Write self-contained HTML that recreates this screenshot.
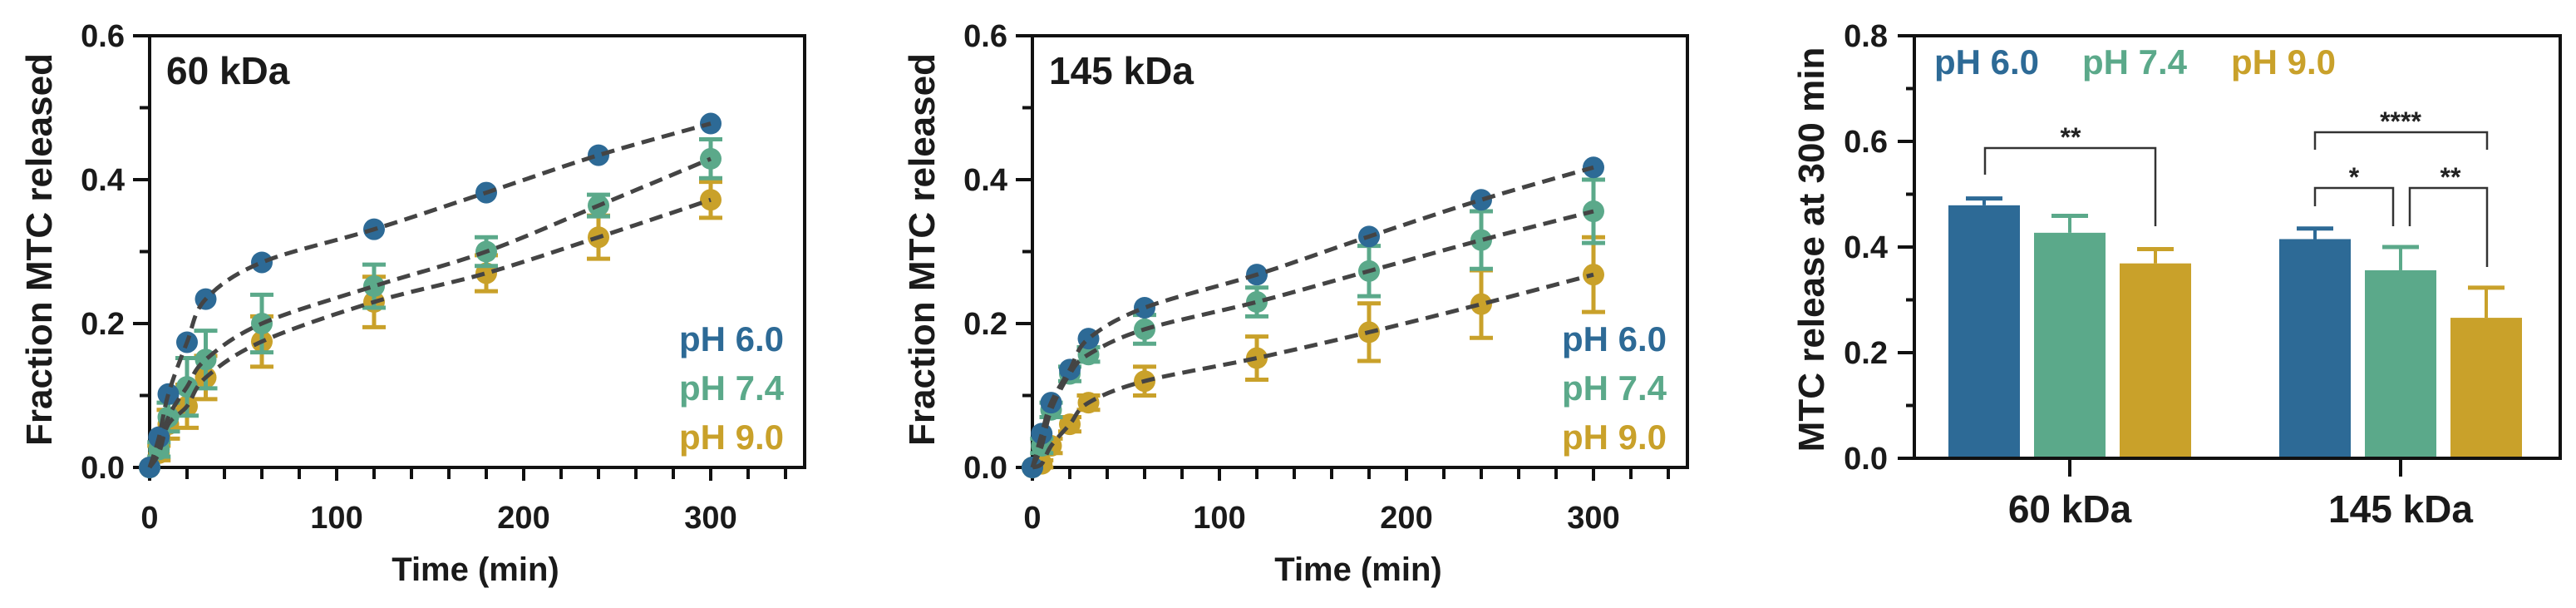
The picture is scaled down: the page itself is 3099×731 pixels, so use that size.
<!DOCTYPE html>
<html><head><meta charset="utf-8"><style>
html,body{margin:0;padding:0;background:#fff;}
svg{display:block;font-family:"Liberation Sans",Arial,sans-serif;font-weight:bold;}
</style></head><body>
<svg id="fig" width="3099" height="731" viewBox="0 0 3099 731" xmlns="http://www.w3.org/2000/svg"></svg>
<script>
// ---- data ----
const times = [0,5,10,20,30,60,120,180,240,300];
const a_ph60 = [0,0.042,0.102,0.174,0.234,0.285,0.331,0.382,0.434,0.478];
const a_ph74 = [0,0.025,0.07,0.112,0.15,0.2,0.252,0.3,0.364,0.429];
const a_ph74err = [0,0.01,0.02,0.04,0.04,0.04,0.03,0.02,0.015,0.027];
const a_ph90 = [0,0.02,0.06,0.085,0.125,0.175,0.23,0.27,0.32,0.372];
const a_ph90err = [0,0.01,0.02,0.03,0.03,0.035,0.035,0.025,0.03,0.025];
const b_ph60 = [0,0.047,0.09,0.136,0.179,0.222,0.268,0.321,0.372,0.417];
const b_ph74 = [0,0.03,0.08,0.13,0.157,0.192,0.23,0.273,0.316,0.356];
const b_ph74err = [0,0.01,0.01,0.01,0.01,0.02,0.02,0.035,0.04,0.044];
const b_ph90 = [0,0.005,0.03,0.06,0.09,0.12,0.152,0.188,0.227,0.268];
const b_ph90err = [0,0.005,0.01,0.01,0.01,0.02,0.03,0.04,0.047,0.052];
const barGroups = ["60 kDa","145 kDa"];
const barPh60 = [0.479,0.415];
const barPh60err = [0.013,0.02];
const barPh74 = [0.427,0.356];
const barPh74err = [0.032,0.044];
const barPh90 = [0.369,0.266];
const barPh90err = [0.027,0.057];
const lineYTicks = ["0.0","0.2","0.4","0.6"];
const lineXTicks = ["0","100","200","300"];
const barYTicks = ["0.0","0.2","0.4","0.6","0.8"];

const C6="#2d6a96", C7="#5ba98a", C9="#c9a12a";
const NS="http://www.w3.org/2000/svg";
const svg=document.getElementById('fig');
function el(tag,attrs,parent,txt){const e=document.createElementNS(NS,tag);for(const k in attrs)e.setAttribute(k,attrs[k]);if(txt!==undefined)e.textContent=txt;(parent||svg).appendChild(e);return e;}

function lineChart(ox,title,s6,s7,e7,s9,e9,name){
  const g=el('g',{},svg);
  
  
  const top=43,bot=562,right=ox+788;
  const xs=t=>ox+t*2.25, ys=v=>bot-v*(bot-top)/0.6;
  // frame
  const fr=el('rect',{x:ox,y:top,width:right-ox,height:bot-top,fill:'none',stroke:'#111','stroke-width':4},g);
  
  
  // y ticks
  for(let i=0;i<=6;i++){const v=i*0.1,y=ys(v);const len=(i%2==0)?20:12;
    el('line',{x1:ox-len,x2:ox,y1:y,y2:y,stroke:'#111','stroke-width':4},g);}
  lineYTicks.forEach(t=>{const tx=el('text',{x:ox-30,y:ys(parseFloat(t))+13,'font-size':38,'text-anchor':'end',fill:'#1a1a1a'},g,t);
    
    });
  for(let t=0;t<=340;t+=20){const x=xs(t);el('line',{x1:x,x2:x,y1:bot,y2:bot+(t%100==0?16:14),stroke:'#111','stroke-width':4},g);}
  lineXTicks.forEach(t=>{const tx=el('text',{x:xs(+t),y:635,'font-size':38,'text-anchor':'middle',fill:'#1a1a1a'},g,t);
    
    });
  const xt=el('text',{x:ox+392,y:698,'font-size':40,'text-anchor':'middle',fill:'#1a1a1a'},g,'Time (min)');
  
  
  const yt=el('text',{x:0,y:0,'font-size':44,'text-anchor':'middle',fill:'#1a1a1a',transform:`translate(${ox-118},300) rotate(-90)`},g,'Fraction MTC released');
  
  
  const tt=el('text',{x:ox+20,y:101,'font-size':46,fill:'#1a1a1a'},g,title);
  
  
  // curves
  function curve(arr){const p=times.map((t,i)=>[xs(t),ys(arr[i])]);let d=`M${p[0][0]},${p[0][1]}`;
    for(let i=0;i<p.length-1;i++){const p0=p[Math.max(0,i-1)],p1=p[i],p2=p[i+1],p3=p[Math.min(p.length-1,i+2)];
      d+=` C${p1[0]+(p2[0]-p0[0])/6},${p1[1]+(p2[1]-p0[1])/6} ${p2[0]-(p3[0]-p1[0])/6},${p2[1]-(p3[1]-p1[1])/6} ${p2[0]},${p2[1]}`;}
    const c=el('path',{d,fill:'none',stroke:'#444','stroke-width':5,'stroke-dasharray':'16 9'},g);
    
    }
  function series(arr,err,col,nm){
    const sg=el('g',{},g);
    
    
    times.forEach((t,i)=>{const x=xs(t),y=ys(arr[i]);
      if(err&&err[i]>0){const y1=ys(arr[i]+err[i]),y2=ys(arr[i]-err[i]);
        el('line',{x1:x,x2:x,y1:y1,y2:y2,stroke:col,'stroke-width':5},sg);
        el('line',{x1:x-14,x2:x+14,y1:y1,y2:y1,stroke:col,'stroke-width':5},sg);
        el('line',{x1:x-14,x2:x+14,y1:y2,y2:y2,stroke:col,'stroke-width':5},sg);}
      const c=el('circle',{cx:x,cy:y,r:13,fill:col},sg);
      
      });}
  series(s9,e9,C9,'series-ph9');series(s7,e7,C7,'series-ph74');series(s6,null,C6,'series-ph6');
  curve(s6);curve(s7);curve(s9);
  [['pH 6.0',C6,422],['pH 7.4',C7,481],['pH 9.0',C9,540]].forEach(([t,c,y])=>{
    const l=el('text',{x:right-25,y,'font-size':42,'text-anchor':'end',fill:c},g,t);
    
    });
}
lineChart(180,'60 kDa',a_ph60,a_ph74,a_ph74err,a_ph90,a_ph90err,'chart-60kda');
lineChart(1242,'145 kDa',b_ph60,b_ph74,b_ph74err,b_ph90,b_ph90err,'chart-145kda');

// ---- bar chart ----
(function(){
  const g=el('g',{},svg);
  
  
  const ox=2303,right=3080,top=43,bot=551;
  const ys=v=>bot-v*(bot-top)/0.8;
  const groupX=[2490,2888], bw=86, gap=103;
  const fr=el('rect',{x:ox,y:top,width:right-ox,height:bot-top,fill:'none',stroke:'#111','stroke-width':4},g);
  
  
  for(let i=0;i<=8;i++){const y=ys(i*0.1);el('line',{x1:ox-(i%2?10:20),x2:ox,y1:y,y2:y,stroke:'#111','stroke-width':4},g);}
  barYTicks.forEach(t=>{const tx=el('text',{x:ox-32,y:ys(+t)+13,'font-size':38,'text-anchor':'end',fill:'#1a1a1a'},g,t);
    
    });
  const series=[[barPh60,barPh60err,C6,-1],[barPh74,barPh74err,C7,0],[barPh90,barPh90err,C9,1]];
  barGroups.forEach((name,gi)=>{
    const cx=groupX[gi];
    el('line',{x1:cx,x2:cx,y1:bot,y2:bot+22,stroke:'#111','stroke-width':4},g);
    const lb=el('text',{x:cx,y:628,'font-size':46,'text-anchor':'middle',fill:'#1a1a1a'},g,name);
    
    
    series.forEach(([vals,errs,col,k])=>{const x=cx+k*gap, y=ys(vals[gi]), ye=ys(vals[gi]+errs[gi]);
      el('line',{x1:x,x2:x,y1:y,y2:ye,stroke:col,'stroke-width':4},g);
      el('line',{x1:x-22,x2:x+22,y1:ye,y2:ye,stroke:col,'stroke-width':5},g);
      const b=el('rect',{x:x-bw/2,y,width:bw,height:bot-y,fill:col},g);
      
      });
  });
  el('line',{x1:ox,x2:right,y1:bot,y2:bot,stroke:'#111','stroke-width':4},g);
  const yt=el('text',{x:0,y:0,'font-size':44,'text-anchor':'middle',fill:'#1a1a1a',transform:'translate(2194,300) rotate(-90)'},g,'MTC release at 300 min');
  
  
  [['pH 6.0',C6,2327],['pH 7.4',C7,2505],['pH 9.0',C9,2684]].forEach(([t,c,x])=>{
    const l=el('text',{x,y:89,'font-size':42,fill:c},g,t);
    
    });
  // significance brackets
  function bracket(x1,x2,y,l1,l2,star,sx){
    el('path',{d:`M${x1},${l1} V${y} H${x2} V${l2}`,fill:'none',stroke:'#333','stroke-width':2.5},g);
    const s=el('text',{x:sx,y:y-2,'font-size':32,'text-anchor':'middle',fill:'#222'},g,star);
    
    }
  bracket(2388,2593,178,210,272,'**',2491);
  bracket(2785,2992,159,180,180,'****',2888);
  bracket(2785,2879,226,248,272,'*',2832);
  bracket(2899,2992,226,272,321,'**',2948);
})();
</script>
</body></html>
